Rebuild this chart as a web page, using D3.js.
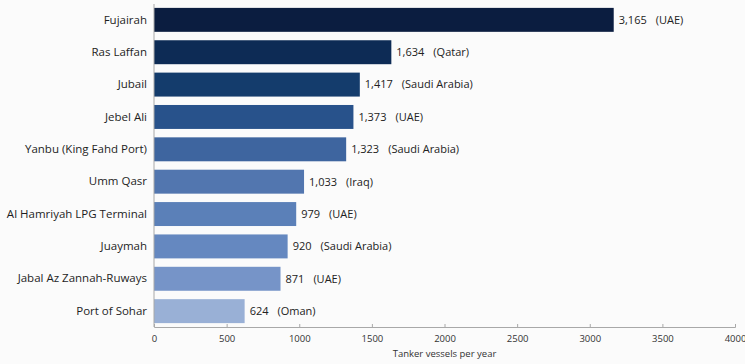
<!DOCTYPE html>
<html>
<head>
<meta charset="utf-8">
<script src="https://cdn.jsdelivr.net/npm/d3@7"></script>
<style>
  html, body { margin: 0; padding: 0; background: #fbfbfb; }
  svg { display: block; font-family: "Open Sans", "Noto Sans", sans-serif; }
</style>
</head>
<body>
<svg id="chart" width="745" height="364"></svg>
<script>
// Busiest tanker ports in the Gulf region
const ports = [
  "Fujairah", "Ras Laffan", "Jubail", "Jebel Ali", "Yanbu (King Fahd Port)",
  "Umm Qasr", "Al Hamriyah LPG Terminal", "Juaymah", "Jabal Az Zannah-Ruways", "Port of Sohar"
];
const vessels = [3165, 1634, 1417, 1373, 1323, 1033, 979, 920, 871, 624];
const countries = ["UAE", "Qatar", "Saudi Arabia", "UAE", "Saudi Arabia", "Iraq", "UAE", "Saudi Arabia", "UAE", "Oman"];
const barColors = ["#0b1d40", "#0d2b55", "#143c6c", "#28528b", "#3e659f", "#5276af", "#5b80b8", "#6588c0", "#7694c8", "#99b0d6"];
const xTicks = [0, 500, 1000, 1500, 2000, 2500, 3000, 3500, 4000];
const xTitle = "Tanker vessels per year";

const svg = d3.select("#chart");
const plotLeft = 154, plotRight = 735, plotTop = 4, axisY = 327;

const x = d3.scaleLinear().domain([0, 4000]).range([plotLeft, plotRight]);
const y = d3.scaleBand().domain(ports).range([plotTop, axisY]).paddingInner(0.26).paddingOuter(0.12);

// bars
svg.append("g").selectAll("rect")
  .data(ports)
  .join("rect")
  .attr("x", x(0))
  .attr("y", d => y(d))
  .attr("width", (d, i) => x(vessels[i]) - x(0))
  .attr("height", y.bandwidth())
  .attr("fill", (d, i) => barColors[i]);

// value + country labels
const valueLabels = svg.append("g").selectAll("text")
  .data(ports)
  .join("text")
  .attr("x", (d, i) => x(vessels[i]) + 5)
  .attr("y", d => y(d) + y.bandwidth() / 2)
  .attr("dy", "0.35em")
  .attr("font-size", 11)
  .attr("fill", "#222");
valueLabels.append("tspan").text((d, i) => d3.format(",")(vessels[i]));
valueLabels.append("tspan").attr("dx", 9).text((d, i) => "(" + countries[i] + ")");

// category labels
const yAxis = svg.append("g")
  .attr("transform", `translate(${plotLeft},0)`)
  .call(d3.axisLeft(y).tickSize(0).tickPadding(7));
yAxis.select(".domain").attr("stroke", "#a8a8a8").attr("d", `M0,${plotTop}V${axisY}`);
yAxis.selectAll("text")
  .attr("font-family", "'Open Sans', 'Noto Sans', sans-serif")
  .attr("font-size", 11.5)
  .attr("fill", "#1e1e1e");

// x axis
const xAxis = svg.append("g")
  .attr("transform", `translate(0,${axisY})`)
  .call(d3.axisBottom(x).tickValues(xTicks).tickFormat(d3.format("d")).tickSize(-3).tickPadding(8));
xAxis.select(".domain").attr("stroke", "#a8a8a8");
xAxis.selectAll(".tick line").attr("stroke", "#a8a8a8");
xAxis.selectAll("text")
  .attr("font-family", "'Open Sans', 'Noto Sans', sans-serif")
  .attr("font-size", 9.5)
  .attr("fill", "#333");

svg.append("text")
  .attr("x", (plotLeft + plotRight) / 2)
  .attr("y", 357)
  .attr("text-anchor", "middle")
  .attr("font-size", 9.5)
  .attr("fill", "#333")
  .text(xTitle);
</script>
</body>
</html>
